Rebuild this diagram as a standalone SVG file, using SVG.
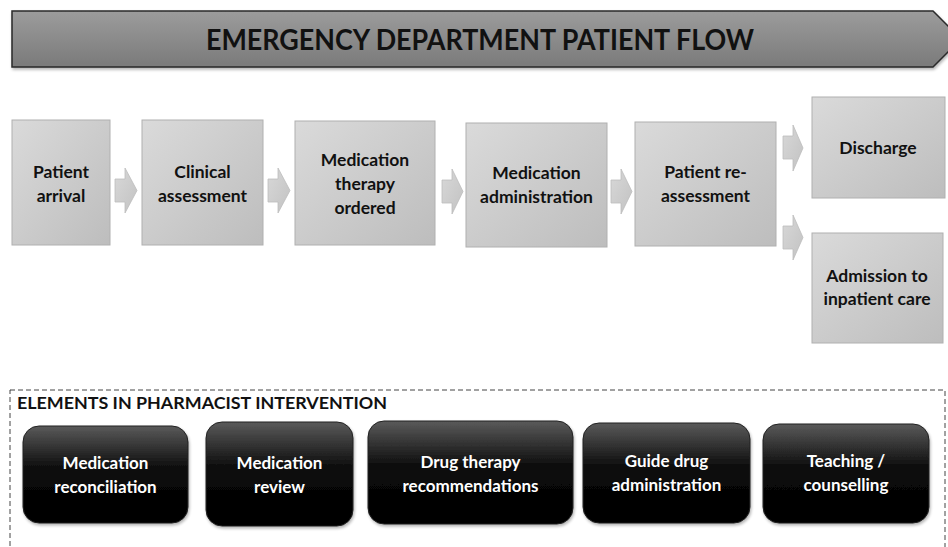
<svg xmlns="http://www.w3.org/2000/svg" width="948" height="547" viewBox="0 0 948 547">
<defs>
<linearGradient id="gBanner" x1="0" y1="0" x2="0" y2="1">
<stop offset="0" stop-color="#9c9c9c"/>
<stop offset="1" stop-color="#7a7a7a"/>
</linearGradient>
<linearGradient id="gBox" x1="0" y1="0" x2="1" y2="1">
<stop offset="0" stop-color="#dadada"/>
<stop offset="1" stop-color="#bdbdbd"/>
</linearGradient>
<linearGradient id="gArrow" x1="0" y1="0" x2="1" y2="1">
<stop offset="0" stop-color="#d8d8d8"/>
<stop offset="1" stop-color="#c2c2c2"/>
</linearGradient>
<linearGradient id="gBlack" x1="0" y1="0" x2="0" y2="1">
<stop offset="0" stop-color="#5a5a5a"/>
<stop offset="0.45" stop-color="#0a0a0a"/>
<stop offset="1" stop-color="#000000"/>
</linearGradient>
<filter id="sh" x="-10%" y="-10%" width="130%" height="130%">
<feGaussianBlur in="SourceAlpha" stdDeviation="1.5"/>
<feOffset dx="1" dy="2" result="o"/>
<feComponentTransfer><feFuncA type="linear" slope="0.3"/></feComponentTransfer>
<feMerge><feMergeNode/><feMergeNode in="SourceGraphic"/></feMerge>
</filter>
</defs>
<style>
.box{fill:url(#gBox);stroke:#b0b0b0;stroke-width:1}
.arr{fill:url(#gArrow);stroke:#bcbcbc;stroke-width:0.8}
.blk{fill:url(#gBlack);stroke:#222;stroke-width:1}
.t{font-family:Lato,"Liberation Sans",sans-serif;font-weight:bold;font-size:17.5px;fill:#111;text-anchor:middle}
.w{font-family:Lato,"Liberation Sans",sans-serif;font-weight:bold;font-size:17px;fill:#ffffff;text-anchor:middle}
.title{font-family:Lato,"Liberation Sans",sans-serif;font-weight:bold;font-size:28px;fill:#111;text-anchor:middle}
.head{font-family:Lato,"Liberation Sans",sans-serif;font-weight:bold;font-size:17px;fill:#111}
</style>
<rect width="948" height="547" fill="#ffffff"/>

<g id="banner">
<path d="M12,11 L933,11 L961,39 L933,67 L12,67 Z" fill="url(#gBanner)" stroke="#2a2a2a" stroke-width="1.5" filter="url(#sh)"/>
<text class="title" x="480" y="50" textLength="548" lengthAdjust="spacingAndGlyphs">EMERGENCY DEPARTMENT PATIENT FLOW</text>
</g>

<g id="connectors">
<path class="arr" d="M115,179 L125,179 L125,168 L137,190.5 L125,213 L125,202 L115,202 Z"/>
<path class="arr" d="M268,179 L278,179 L278,168 L290,190.5 L278,213 L278,202 L268,202 Z"/>
<path class="arr" d="M442,180 L452,180 L452,169 L463,191.5 L452,214 L452,203 L442,203 Z"/>
<path class="arr" d="M611,180 L621,180 L621,169 L632,191.5 L621,214 L621,203 L611,203 Z"/>
<path class="arr" d="M783,136 L793,136 L793,125 L803,148 L793,171 L793,159 L783,159 Z"/>
<path class="arr" d="M783,226 L793,226 L793,215 L803,237.5 L793,260 L793,249 L783,249 Z"/>
</g>

<g id="n-arrival">
<rect class="box" x="12" y="120" width="98" height="125"/>
<text class="t" x="61" y="178">Patient</text>
<text class="t" x="61" y="202">arrival</text>
</g>
<g id="n-clinical">
<rect class="box" x="142" y="120" width="121" height="125"/>
<text class="t" x="202.5" y="178">Clinical</text>
<text class="t" x="202.5" y="202">assessment</text>
</g>
<g id="n-ordered">
<rect class="box" x="295" y="121" width="140" height="124"/>
<text class="t" x="365" y="166">Medication</text>
<text class="t" x="365" y="190">therapy</text>
<text class="t" x="365" y="214">ordered</text>
</g>
<g id="n-admin">
<rect class="box" x="466" y="123" width="141" height="124"/>
<text class="t" x="536.5" y="179">Medication</text>
<text class="t" x="536.5" y="203">administration</text>
</g>
<g id="n-reassess">
<rect class="box" x="635" y="122" width="141" height="124"/>
<text class="t" x="705.5" y="178">Patient re-</text>
<text class="t" x="705.5" y="202">assessment</text>
</g>
<g id="n-discharge">
<rect class="box" x="812" y="97" width="133" height="101"/>
<text class="t" x="878" y="154">Discharge</text>
</g>
<g id="n-admission">
<rect class="box" x="812" y="233" width="131" height="110"/>
<text class="t" x="877" y="282">Admission to</text>
<text class="t" x="877" y="305">inpatient care</text>
</g>

<g id="pharmacist-frame">
<rect x="10" y="390" width="935" height="175" fill="none" stroke="#444" stroke-width="1" stroke-dasharray="5,3"/>
<text class="head" x="17" y="409" textLength="370" lengthAdjust="spacingAndGlyphs">ELEMENTS IN PHARMACIST INTERVENTION</text>
</g>

<g id="e-reconciliation">
<rect class="blk" x="23" y="426" width="165" height="97" rx="16" filter="url(#sh)"/>
<text class="w" x="105.5" y="469">Medication</text>
<text class="w" x="105.5" y="493">reconciliation</text>
</g>
<g id="e-review">
<rect class="blk" x="206" y="422" width="147" height="104" rx="16" filter="url(#sh)"/>
<text class="w" x="279.5" y="469">Medication</text>
<text class="w" x="279.5" y="493">review</text>
</g>
<g id="e-recommendations">
<rect class="blk" x="368" y="421" width="205" height="103" rx="16" filter="url(#sh)"/>
<text class="w" x="470.5" y="468">Drug therapy</text>
<text class="w" x="470.5" y="492">recommendations</text>
</g>
<g id="e-guide">
<rect class="blk" x="583" y="423" width="167" height="100" rx="16" filter="url(#sh)"/>
<text class="w" x="666.5" y="467">Guide drug</text>
<text class="w" x="666.5" y="491">administration</text>
</g>
<g id="e-teaching">
<rect class="blk" x="763" y="424" width="166" height="99" rx="16" filter="url(#sh)"/>
<text class="w" x="846" y="467">Teaching /</text>
<text class="w" x="846" y="491">counselling</text>
</g>
</svg>
